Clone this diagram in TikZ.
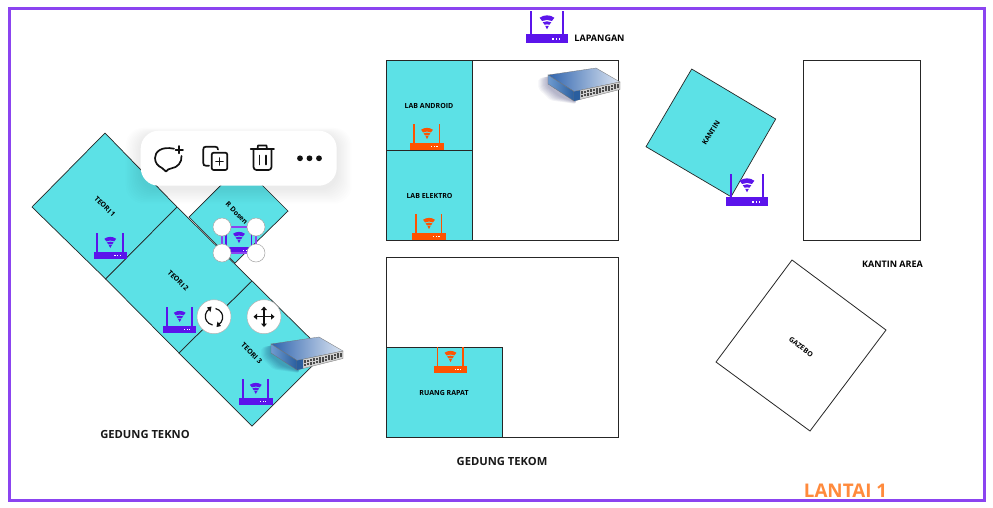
\documentclass[tikz,border=0pt]{standalone}
\usepackage{fontspec}
\setmainfont{Open Sans}
\definecolor{roomcyan}{HTML}{5CE1E6}
\definecolor{rpurple}{HTML}{5B14EB}
\definecolor{rorange}{HTML}{FF5200}
\definecolor{framepurple}{HTML}{8B44F0}
\definecolor{lantaiorange}{HTML}{FF8A3C}
\definecolor{iconblack}{HTML}{111111}
\definecolor{swtop}{HTML}{2F64AE}
\definecolor{swmid}{HTML}{5C8AC6}
\definecolor{swback}{HTML}{DCE5F2}
\definecolor{swsidea}{HTML}{6F9BD0}
\definecolor{swsideb}{HTML}{2A5E9E}
\tikzset{
  room/.style={draw=black!85,line width=0.7pt,fill=roomcyan},
  plainroom/.style={draw=black!85,line width=0.8pt,fill=white},
  tiny label/.style={font=\bfseries\fontsize{7}{8}\selectfont,inner sep=0pt,text=black},
  mid label/.style={font=\bfseries\fontsize{9}{10}\selectfont,inner sep=0pt,text=black},
  big label/.style={font=\bfseries\fontsize{11.2}{13}\selectfont,inner sep=0pt,text=black!90},
  handle/.style={draw=black!35,line width=0.5pt,fill=white},
  toolicon/.style={draw=iconblack,line width=1.7pt,line join=round,line cap=round},
  pics/router/.style={code={
    \fill[#1] (-16.7,-7) rectangle (16.7,0);
    \fill[#1] (-13.9,-26) rectangle (-12.1,-7);
    \fill[#1] (11.6,-26) rectangle (13.4,-7);
    \fill[#1] (-5.9,-20.2) .. controls (-2.5,-22.8) and (2.5,-22.8) .. (5.9,-20.2) -- (3.9,-17.6) .. controls (1.5,-18.8) and (-1.5,-18.8) .. (-3.9,-17.6) -- cycle;
    \fill[#1] (-3.4,-16.6) .. controls (-1.2,-17.6) and (1.2,-17.6) .. (3.4,-16.6) -- (1.9,-14.6) .. controls (0.8,-15) and (-0.8,-15) .. (-1.9,-14.6) -- cycle;
    \fill[#1] (-1.5,-13.8) -- (1.5,-13.8) -- (0,-11) -- cycle;
    \foreach \dx in {4.7,7.4,10} {\fill[white] (\dx-0.6,-4) rectangle (\dx+0.6,-2.8);}
  }},
  pics/netswitch/.style={code={
    \foreach \k in {1,...,8} {
      \fill[black!70!blue,opacity=0.04,rounded corners=2pt] (-\k*1.2,2+\k*0.2) -- (2,1) -- (28,20) -- (28,27+\k*0.25) -- (-\k*1.2+12,21+\k*0.55) -- (-\k*1.2,11+\k*0.35) -- cycle;
    }
    \shade[left color=swtop,middle color=swmid,right color=swback,draw=black!55,line width=0.3pt]
      (0,0) -- (48,-7) -- (72,7) -- (26,16.5) -- cycle;
    \shade[left color=swsidea,right color=swsideb,draw=black!55,line width=0.3pt]
      (0,0) -- (26,16.5) -- (26,26) -- (0,9) -- cycle;
    \fill[black!18,draw=black!55,line width=0.3pt] (26,16.5) -- (72,7) -- (72,14.5) -- (26,26) -- cycle;
    \fill[swsideb] (26,16.5) -- (32,15.3) -- (32,24.5) -- (26,26) -- cycle;
    \foreach \i in {0,...,12} {
      \fill[black!70] (33+\i*3,16.3-\i*0.62) rectangle ++(2.1,2.3);
      \fill[black!70] (33+\i*3,19.8-\i*0.72) rectangle ++(2.1,2.3);
    }
  }}
}
\begin{document}
\begin{tikzpicture}[x=1pt,y=-1pt]
\useasboundingbox (0,0) rectangle (993,507);
\fill[white] (0,0) rectangle (993,507);
\draw[framepurple,line width=3pt] (9,8.5) rectangle (984.5,500);

% Gedung Tekno
\path[room] (241.5,164.5) -- (288,211) -- (235,263) -- (189,217) -- cycle;
\path[room] (105,133) -- (177,207) -- (105.7,279) -- (32,207) -- cycle;
\path[room] (177,207) -- (252,281) -- (179,353) -- (105.7,279) -- cycle;
\path[room] (252,281) -- (325,353) -- (252,426) -- (179,353) -- cycle;
\node[tiny label,rotate=-45] (teori1) at (105,206.7) {TEORI 1};
\node[tiny label,rotate=-45] (teori2) at (178.3,280.7) {TEORI 2};
\node[tiny label,rotate=-45] (teori3) at (251.7,353.3) {TEORI 3};
\node[tiny label,rotate=-45] (rdosen) at (236.7,213) {R Dosen};
\node[big label] (tekno) at (145,434.3) {GEDUNG TEKNO};

% Gedung Tekom
\path[plainroom] (386.5,60) rectangle (618,240.5);
\path[plainroom] (386.5,257.5) rectangle (618,437);
\path[room] (386.5,60) rectangle (472.7,150);
\path[room] (386.5,150) rectangle (472.7,240.5);
\path[room] (386.5,347) rectangle (502,437);
\node[tiny label] (labandroid) at (429,105.5) {LAB ANDROID};
\node[tiny label] (labelektro) at (429.5,195.5) {LAB ELEKTRO};
\node[tiny label] (rapat) at (444,392.7) {RUANG RAPAT};
\node[big label] (tekom) at (502,461.3) {GEDUNG TEKOM};
\node[mid label] (lapangan) at (599.5,38.5) {LAPANGAN};

% Kantin, Gazebo
\path[room] (691.7,69) -- (775.7,119) -- (731,196.7) -- (646,146.7) -- cycle;
\path[plainroom] (803.5,60) rectangle (920.5,240);
\path[plainroom] (792,260) -- (886,330) -- (810,431) -- (716,362) -- cycle;
\node[tiny label,rotate=58] (kantin) at (711,133) {KANTIN};
\node[tiny label,rotate=-37] (gazebo) at (801,347) {GAZEBO};
\node[mid label] (kantinarea) at (892.5,264.5) {KANTIN AREA};
\node[font=\bfseries\fontsize{18.8}{21}\selectfont,text=lantaiorange,inner sep=0pt] (lantai) at (845.5,491) {LANTAI 1};

% Routers
\pic at (110.3,259) {router=rpurple};
\pic at (179.7,333) {router=rpurple};
\pic at (255.8,405) {router=rpurple};
\pic at (239,254) {router=rpurple};
\pic[scale=1.25] at (547,43) {router=rpurple};
\pic[scale=1.25] at (747,206) {router=rpurple};
\pic at (427,150) {router=rorange};
\pic at (429,240) {router=rorange};
\pic at (450.5,373) {router=rorange};

% Switches
\pic at (548,75) {netswitch};
\pic at (271,344) {netswitch};

% Selection
\draw[framepurple,line width=1.3pt] (222,227) rectangle (256,253);
\foreach \hx/\hy in {222/227,256/227,222/253,256/253} {
  \draw[handle] (\hx,\hy) circle[radius=9];
}
\draw[handle,draw=black!30] (214,316.7) circle[radius=17];
\draw[handle,draw=black!30] (264,316.7) circle[radius=17];

% Rotate icon
\draw[iconblack,line width=1.2pt] (212.5,325) .. controls (207,323.5) and (204.5,319) .. (205.5,314.5) .. controls (206,312) and (207.5,310) .. (209.5,309);
\fill[iconblack] (211.5,306.5) -- (207,307.5) -- (210.5,312) -- cycle;
\draw[iconblack,line width=1.2pt] (215.5,308.5) .. controls (221,310) and (223.5,314.5) .. (222.5,319) .. controls (222,321.5) and (220.5,323.5) .. (218.5,324.5);
\fill[iconblack] (216.5,327) -- (221,326) -- (217.5,321.5) -- cycle;
% Move icon
\draw[iconblack,line width=1.2pt] (264,308) -- (264,325.5) (255,316.7) -- (273,316.7);
\fill[iconblack] (264,306.5) -- (261,310) -- (267,310) -- cycle;
\fill[iconblack] (264,327) -- (261,323.5) -- (267,323.5) -- cycle;
\fill[iconblack] (253.5,316.7) -- (257,313.7) -- (257,319.7) -- cycle;
\fill[iconblack] (274.5,316.7) -- (271,313.7) -- (271,319.7) -- cycle;

% Toolbar
\foreach \k in {1,...,10} {
  \fill[black,opacity=0.008,rounded corners=18pt] (140.7-\k*1.5,130.7-\k*0.6+3) rectangle (336.7+\k*1.5,185.7+\k*1.5+3);
}
\fill[white,rounded corners=18pt] (140.7,130.7) rectangle (336.7,185.7);

% Comment icon
\draw[toolicon] (174,148.7) .. controls (161,146) and (155,152) .. (155,158) .. controls (155,163) and (158,166) .. (162,168) -- (166,171.5) .. controls (167.5,169.5) and (169,168.8) .. (171,168.5) .. controls (178,167.5) and (182,162) .. (181.5,156);
\draw[toolicon] (179.3,146) -- (179.3,153.3) (175.6,149.7) -- (183,149.7);
% Copy icon
\draw[toolicon] (209,165.7) -- (206,165.7) .. controls (204,165.7) and (203.3,165) .. (203.3,163) -- (203.3,149.5) .. controls (203.3,147.5) and (204,146.7) .. (206,146.7) -- (215,146.7) .. controls (217,146.7) and (218,147.5) .. (218,149.5);
\draw[toolicon,rounded corners=2pt] (211.7,152.7) rectangle (227.3,170);
\draw[toolicon] (219.5,158) -- (219.5,165) (216,161.5) -- (223,161.5);
% Trash icon
\draw[toolicon] (250.7,149.3) -- (274,149.3);
\draw[toolicon] (257.5,149.3) -- (258,145.5) -- (266.5,145.5) -- (267,149.3);
\draw[toolicon,rounded corners=3pt] (253.5,149.3) -- (253.5,170) -- (271.5,170) -- (271.5,149.3);
\draw[toolicon] (259.5,155.5) -- (259.5,164.5) (265.7,155.5) -- (265.7,164.5);
% Dots
\foreach \dx in {300,309.5,319} {\fill[iconblack] (\dx,158.3) circle[radius=2.9];}
\end{tikzpicture}
\end{document}
